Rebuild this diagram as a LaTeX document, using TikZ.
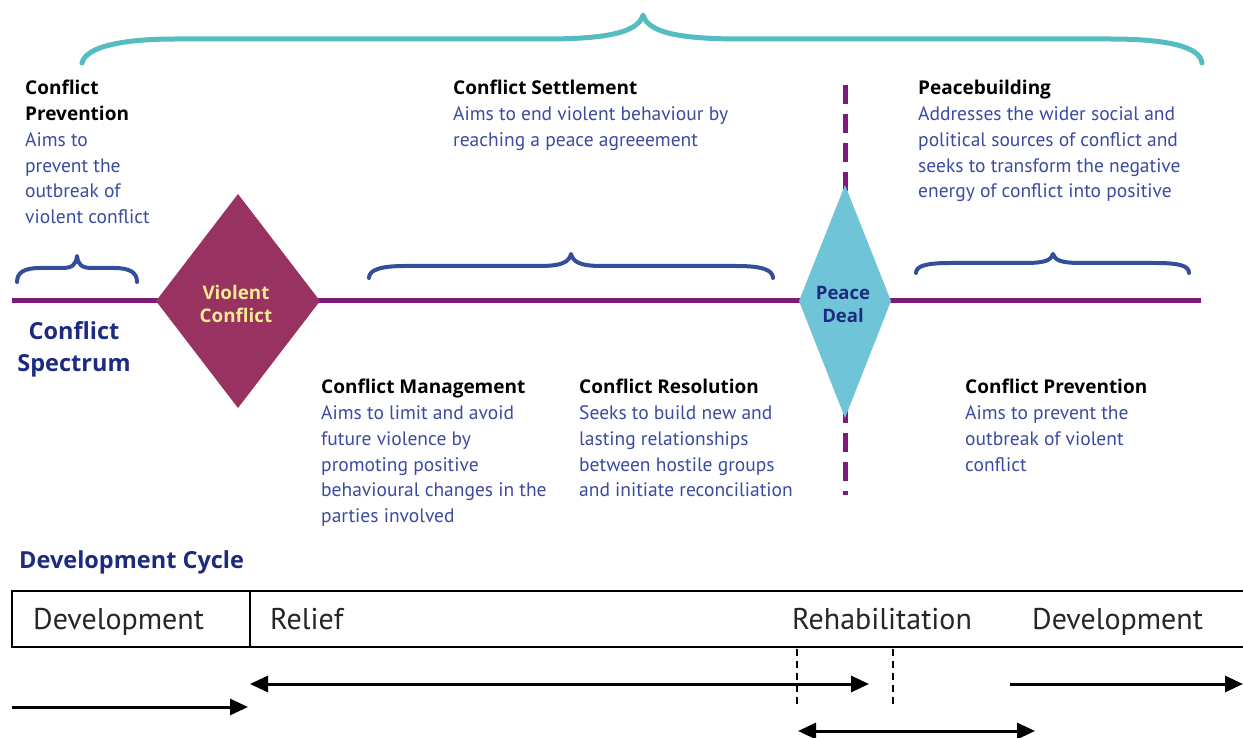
\documentclass[tikz,border=0pt]{standalone}
\usepackage{fontspec}
\setmainfont{PT Sans}
\newfontfamily\headfont{Open Sans}
\usetikzlibrary{arrows.meta}
\definecolor{spine}{HTML}{7E1A7C}
\definecolor{violent}{HTML}{983261}
\definecolor{violenttext}{HTML}{F6EB8E}
\definecolor{peace}{HTML}{70C4D7}
\definecolor{navy}{HTML}{1C2A80}
\definecolor{tealbrace}{HTML}{55BDC1}
\definecolor{bluebrace}{HTML}{344F9A}
\definecolor{bodyblue}{HTML}{3B4BA0}
\newcommand{\stagehead}[1]{{\color{black}\headfont\bfseries\fontsize{19}{25.8}\selectfont #1}}
\begin{document}
\begin{tikzpicture}[x=1pt,y=-1pt,
  block/.style={align=left, inner sep=0pt, anchor=north west, text=bodyblue,
    font=\fontsize{19.5}{25.8}\selectfont},
  bigbrace/.style={draw=tealbrace, line width=5pt, line cap=round, line join=round},
  smallbrace/.style={draw=bluebrace, line width=4pt, line cap=round, line join=round},
  spineline/.style={draw=spine, line width=5pt},
  stageline/.style={draw=spine, line width=5pt, dash pattern=on 19pt off 10pt},
  phase/.style={inner sep=0pt, anchor=base west, font=\fontsize{30}{36}\selectfont, text=black!85},
  cyclebar/.style={draw=black, line width=2.5pt},
  marker/.style={draw=black, line width=2.5pt, dash pattern=on 7pt off 5pt},
  flow/.style={draw=black, line width=3pt, -{Triangle[length=18pt,width=16pt]}},
  twoway/.style={draw=black, line width=3pt, {Triangle[length=18pt,width=16pt]}-{Triangle[length=18pt,width=16pt]}}
]
\useasboundingbox (0,0) rectangle (1243,738);

% ---- overall brace across the whole spectrum
\path[bigbrace] (82,63) .. controls (86,46) and (125,39) .. (175,39)
  -- (545,39) .. controls (605,39) and (638,33) .. (643,15)
  .. controls (648,33) and (681,39) .. (741,39)
  -- (1110,39) .. controls (1165,39) and (1200,46) .. (1202,63);

% ---- stage braces above the spine
\path[smallbrace] (17,282) .. controls (17,272) and (25,268) .. (40,268)
  -- (62,268) .. controls (72,268) and (76,265) .. (77,256)
  .. controls (78,265) and (82,268) .. (92,268)
  -- (114,268) .. controls (129,268) and (137,272) .. (137,282);
\path[smallbrace] (369,278) .. controls (369,270) and (380,266) .. (405,266)
  -- (540,266) .. controls (562,266) and (569,262) .. (571,254)
  .. controls (573,262) and (580,266) .. (602,266)
  -- (737,266) .. controls (762,266) and (773,270) .. (773,278);
\path[smallbrace] (916,273) .. controls (916,266) and (926,263) .. (950,263)
  -- (1025,263) .. controls (1046,263) and (1051,260) .. (1053,254)
  .. controls (1055,260) and (1060,263) .. (1081,263)
  -- (1156,263) .. controls (1180,263) and (1189,266) .. (1189,273);

% ---- conflict spectrum axis
\coordinate (spineL) at (12,301);
\coordinate (spineR) at (1201,301);
\coordinate (stageTop) at (845,85);
\coordinate (stageBot) at (845,495);
\path[spineline] (spineL) -- (spineR);
\path[stageline] (stageTop) -- (stageBot);

\fill[violent] (156,301) -- (238,194) -- (320,301) -- (238,408) -- cycle;
\fill[peace] (799,301) -- (845,185) -- (891,301) -- (845,418) -- cycle;

% base anchor of a two-line node sits on its last line
\node[align=center, inner sep=0pt, text=violenttext, font=\headfont\bfseries\fontsize{18.8}{23}\selectfont, anchor=base]
  (violent) at (236,323) {Violent\\Conflict};
\node[align=center, inner sep=0pt, text=navy, font=\headfont\bfseries\fontsize{18.5}{24}\selectfont, anchor=base]
  (deal) at (843,323) {Peace\\Deal};

\node[align=center, inner sep=0pt, text=navy, font=\headfont\bfseries\fontsize{23.5}{32}\selectfont, anchor=base]
  (spectrum) at (74,371) {Conflict\\Spectrum};

% ---- descriptions of the stages
\node[block] (prevL) at (25,80)
  {\stagehead{Conflict}\\\stagehead{Prevention}\\Aims to\\prevent the\\outbreak of\\violent conflict};
\node[block] (settle) at (453,80)
  {\stagehead{Conflict Settlement}\\Aims to end violent behaviour by\\reaching a peace agreeement};
\node[block] (build) at (918,80)
  {\stagehead{Peacebuilding}\\Addresses the wider social and\\political sources of conflict and\\seeks to transform the negative\\energy of conflict into positive};
\node[block] (manage) at (321,379)
  {\stagehead{Conflict Management}\\Aims to limit and avoid\\future violence by\\promoting positive\\behavioural changes in the\\parties involved};
\node[block] (resolve) at (579,379)
  {\stagehead{Conflict Resolution}\\Seeks to build new and\\lasting relationships\\between hostile groups\\and initiate reconciliation};
\node[block] (prevR) at (965,379)
  {\stagehead{Conflict Prevention}\\Aims to prevent the\\outbreak of violent\\conflict};

% ---- development cycle
\node[inner sep=0pt, anchor=base west, text=navy, font=\headfont\bfseries\fontsize{23.5}{26}\selectfont]
  (cycle) at (19,568) {Development Cycle};

\coordinate (barTL) at (12,591);
\coordinate (barBL) at (12,647);
\coordinate (barTR) at (1243,591);
\coordinate (barBR) at (1243,647);
\coordinate (divT) at (250,591);
\coordinate (divB) at (250,647);
\path[cyclebar] (barTR) -- (barTL) -- (barBL) -- (barBR);
\path[cyclebar] (divT) -- (divB);

\node[phase] (dev1) at (33,629) {Development};
\node[phase] (relief) at (270,629) {Relief};
\node[phase] (rehab) at (792,629) {Rehabilitation};
\node[phase] (dev2) at (1032,629) {Development};

\coordinate (m1T) at (797,649);
\coordinate (m1B) at (797,708);
\coordinate (m2T) at (893,649);
\coordinate (m2B) at (893,708);
\path[marker] (m1T) -- (m1B);
\path[marker] (m2T) -- (m2B);

\coordinate (devA) at (12,707);
\coordinate (devB) at (248,707);
\coordinate (relA) at (250,684);
\coordinate (relB) at (869,684);
\coordinate (devC) at (1010,684);
\coordinate (devD) at (1243,684);
\coordinate (rehA) at (798,731);
\coordinate (rehB) at (1035,731);
\path[flow] (devA) -- (devB);
\path[twoway] (relA) -- (relB);
\path[flow] (devC) -- (devD);
\path[twoway] (rehA) -- (rehB);
\end{tikzpicture}
\end{document}
